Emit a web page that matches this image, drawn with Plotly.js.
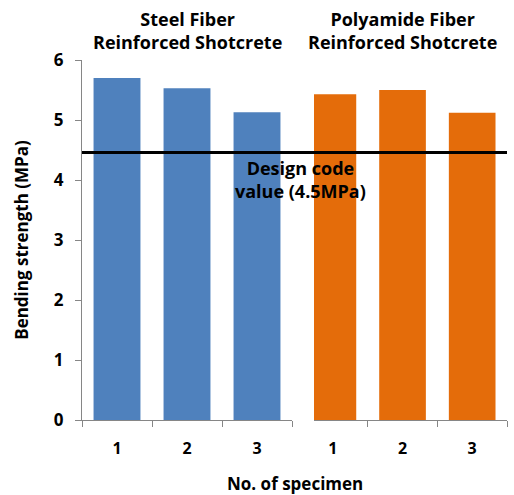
<!DOCTYPE html>
<html>
<head>
<meta charset="utf-8">
<script src="https://cdn.plot.ly/plotly-3.0.1.min.js"></script>
<style>html,body{margin:0;padding:0;background:#fff;}#chart{width:514px;height:495px;}</style>
</head>
<body>
<div id="chart"></div>
<script>
var specimens = ["1", "2", "3"];
var steelValues = [5.70, 5.53, 5.13];
var polyamideValues = [5.43, 5.50, 5.12];
var groupTitles = ["Steel Fiber<br>Reinforced Shotcrete", "Polyamide Fiber<br>Reinforced Shotcrete"];
var designValue = 4.46;
var designLabel = "Design code<br>value (4.5MPa)";
var yTicks = [0, 1, 2, 3, 4, 5, 6];

var FONT = "'Open Sans', sans-serif";
var axisColor = "#868686";

var traces = [
  {type: "bar", x: specimens, y: steelValues, xaxis: "x", yaxis: "y",
   marker: {color: "#4F81BD"}, width: 0.67, hoverinfo: "none"},
  {type: "bar", x: specimens, y: polyamideValues, xaxis: "x2", yaxis: "y",
   marker: {color: "#E46C0A"}, width: 0.67, hoverinfo: "none"}
];

var xCommon = {
  type: "category", showline: true, linecolor: axisColor, linewidth: 1,
  ticks: "outside", ticklen: 6, tickcolor: axisColor, tickson: "boundaries",
  showgrid: false, zeroline: false, anchor: "y", ticklabelstandoff: 14,
  tickfont: {family: FONT, size: 16, color: "#000", weight: "bold"}
};

var layout = {
  width: 514, height: 495,
  margin: {l: 82, r: 7, t: 60, b: 75},
  paper_bgcolor: "#fff", plot_bgcolor: "#fff",
  showlegend: false,
  font: {family: FONT, color: "#000"},
  xaxis: Object.assign({}, xCommon, {domain: [0, 210/425], range: [-0.5, 2.5]}),
  xaxis2: Object.assign({}, xCommon, {domain: [232/425, 1], range: [-0.5 + 16/70, 2.5]}),
  yaxis: {
    range: [0, 6], tickmode: "array", tickvals: yTicks,
    showline: true, linecolor: axisColor, linewidth: 1,
    ticks: "outside", ticklen: 6, tickcolor: axisColor,
    showgrid: false, zeroline: false, ticklabelstandoff: 8,
    tickfont: {family: FONT, size: 17, color: "#000", weight: "bold"},
    title: {text: "Bending strength (MPa)", standoff: 20,
            font: {family: FONT, size: 17, color: "#000", weight: "bold"}}
  },
  shapes: [
    {type: "line", xref: "paper", yref: "y", x0: 0, x1: 1, y0: designValue, y1: designValue,
     line: {color: "#000", width: 3}}
  ],
  annotations: [
    {xref: "x", yref: "paper", x: 1, y: 1, yshift: 4, yanchor: "bottom", showarrow: false,
     text: groupTitles[0], font: {family: FONT, size: 18, color: "#000", weight: "bold"}},
    {xref: "x2", yref: "paper", x: 1, y: 1, yshift: 4, yanchor: "bottom", showarrow: false,
     text: groupTitles[1], font: {family: FONT, size: 18, color: "#000", weight: "bold"}},
    {xref: "paper", yref: "y", x: (300-82)/425, y: designValue, yshift: -2, yanchor: "top", showarrow: false,
     text: designLabel, font: {family: FONT, size: 18, color: "#000", weight: "bold"}},
    {xref: "paper", yref: "paper", x: (295-82)/425, y: 0, yshift: -50, yanchor: "top", showarrow: false,
     text: "No. of specimen", font: {family: FONT, size: 17, color: "#000", weight: "bold"}}
  ]
};

Plotly.newPlot("chart", traces, layout, {staticPlot: true, displayModeBar: false});
</script>
</body>
</html>
